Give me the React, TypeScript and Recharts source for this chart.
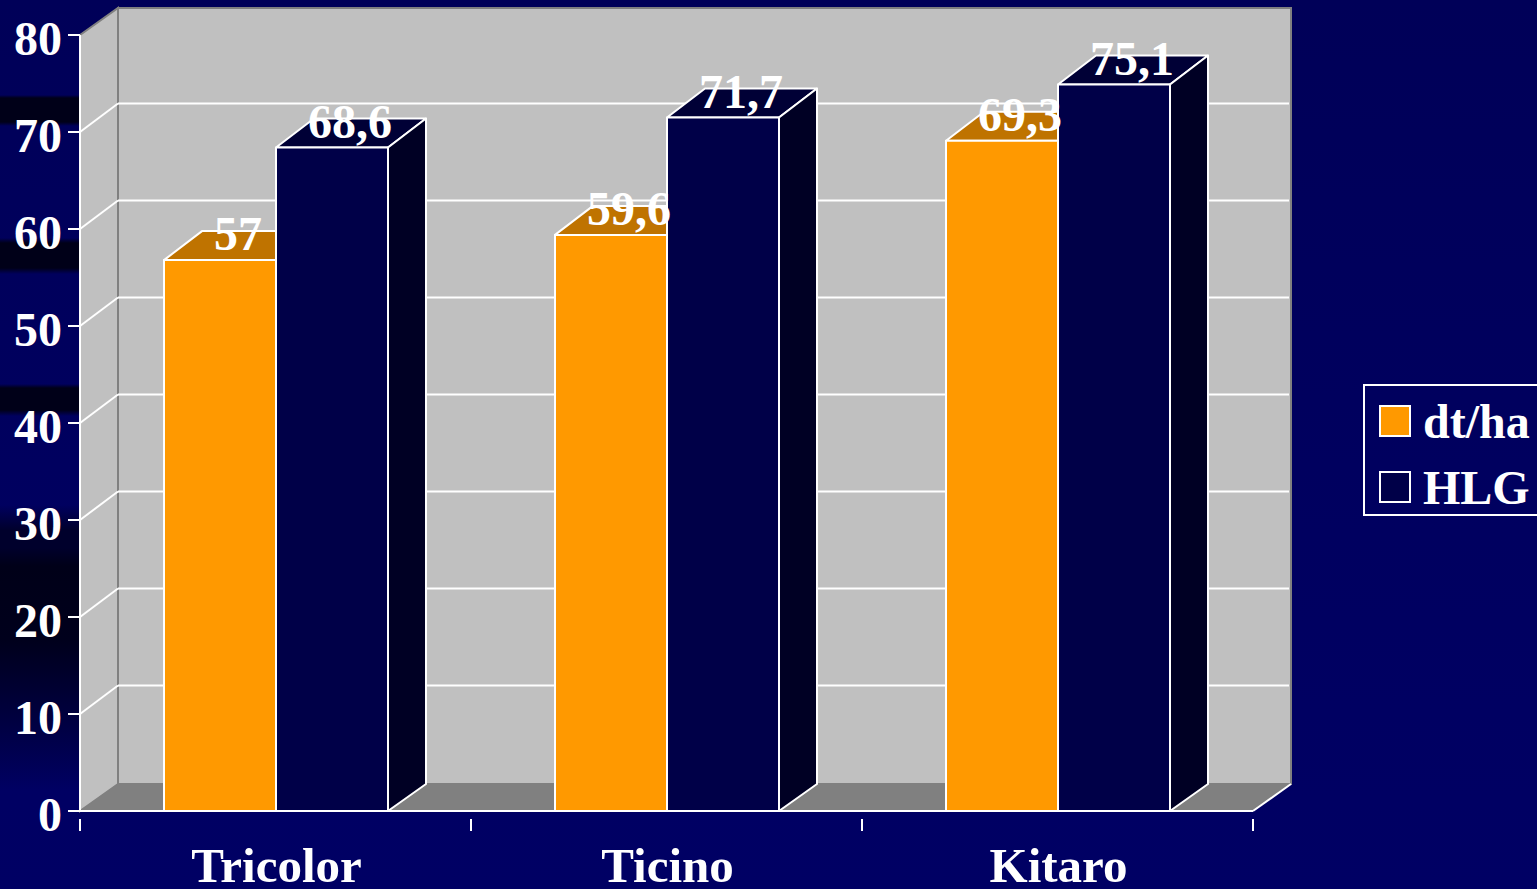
import React from "react";
import {
  BarChart,
  Bar,
  XAxis,
  YAxis,
  CartesianGrid,
  Legend,
  LabelList,
  ReferenceArea,
} from "recharts";

const categories = ["Tricolor", "Ticino", "Kitaro"];
const dtHa = [57, 59.6, 69.3];
const hlg = [68.6, 71.7, 75.1];
const yTicks = [0, 10, 20, 30, 40, 50, 60, 70, 80];

const data = categories.map((name, i) => ({ name, dtHa: dtHa[i], hlg: hlg[i] }));

const WIDTH = 1537;
const HEIGHT = 889;
const PLOT_LEFT = 80;
const PLOT_RIGHT = 1253;
const BAND = (PLOT_RIGHT - PLOT_LEFT) / categories.length;
// depth of the fake 3D box
const DX = 38;
const DY = 27;
// the original draws front faces a little low and grid lines a little high
const FRONT_NUDGE = 2;
const GRID_NUDGE = 1.5;
const FONT = "'Liberation Serif', 'Times New Roman', serif";

const textStyle = {
  fill: "#fff",
  fontFamily: FONT,
  fontSize: 48,
  fontWeight: "bold" as const,
};

const Walls = ({ x, y, width, height }: any) => {
  const bottom = y + height;
  const right = x + width;
  return (
    <g>
      <polygon
        points={`${x},${y} ${x + DX},${y - DY} ${x + DX},${bottom - DY} ${x},${bottom}`}
        fill="#c0c0c0"
        stroke="#808080"
        strokeWidth={2}
      />
      <rect
        x={x + DX}
        y={y - DY}
        width={width}
        height={height}
        fill="#c0c0c0"
        stroke="#808080"
        strokeWidth={2}
      />
      <polygon
        points={`${x},${bottom} ${right},${bottom} ${right + DX},${bottom - DY} ${x + DX},${bottom - DY}`}
        fill="#808080"
      />
      <line
        x1={right}
        y1={bottom}
        x2={right + DX}
        y2={bottom - DY}
        stroke="#fff"
        strokeWidth={2}
      />
    </g>
  );
};

const GridLine = ({ x1, y1, x2, index }: any) => {
  // no line on the floor or on the top edge
  if (index === 0 || index === yTicks.length - 1) return <g key={index} />;
  const backY = y1 - DY - GRID_NUDGE;
  return (
    <g key={index}>
      <line x1={x1} y1={y1} x2={x1 + DX} y2={backY} stroke="#fff" strokeWidth={2} />
      <line x1={x1 + DX} y1={backY} x2={x2 + DX - 2} y2={backY} stroke="#fff" strokeWidth={2} />
    </g>
  );
};

const Box3D = ({ x, y, width, height, fill, topFill, sideFill }: any) => {
  const right = x + width;
  const bottom = y + height;
  const front = y + FRONT_NUDGE;
  return (
    <g stroke="#fff" strokeWidth={2} strokeLinejoin="round">
      <polygon
        points={`${x},${front} ${x + DX},${y - DY} ${right + DX},${y - DY} ${right},${front}`}
        fill={topFill}
      />
      <polygon
        points={`${right},${front} ${right + DX},${y - DY} ${right + DX},${bottom - DY} ${right},${bottom}`}
        fill={sideFill}
      />
      <rect x={x} y={front} width={width} height={height - FRONT_NUDGE} fill={fill} />
    </g>
  );
};

const ValueLabel = ({ x, y, width, value }: any) => (
  <text x={x + width / 2 + 18} y={y - 8} textAnchor="middle" {...textStyle}>
    {String(value).replace(".", ",")}
  </text>
);

const YTick = ({ x, y, payload }: any) => (
  <text x={x} y={y + 20} textAnchor="end" {...textStyle}>
    {payload.value}
  </text>
);

const XTick = ({ x, y, payload, index }: any) => (
  <g>
    <line x1={x - BAND / 2} y1={y} x2={x - BAND / 2} y2={y + 12} stroke="#fff" strokeWidth={2} />
    {index === categories.length - 1 && (
      <line x1={x + BAND / 2} y1={y} x2={x + BAND / 2} y2={y + 12} stroke="#fff" strokeWidth={2} />
    )}
    <text x={x + 1} y={882} textAnchor="middle" {...textStyle} fontSize={49}>
      {payload.value}
    </text>
  </g>
);

const LegendBox = ({ payload }: any) => (
  <div
    style={{
      position: "relative",
      width: 190,
      height: 132,
      boxSizing: "border-box",
      border: "2px solid #fff",
    }}
  >
    {(payload || []).map((entry: any, i: number) => (
      <div key={entry.value}>
        <div
          style={{
            position: "absolute",
            left: 14,
            top: 19 + i * 66,
            width: 32,
            height: 32,
            boxSizing: "border-box",
            border: "2px solid #fff",
            background: entry.color,
          }}
        />
        <div
          style={{
            position: "absolute",
            left: 58,
            top: 9 + i * 66,
            lineHeight: "54px",
            color: "#fff",
            fontFamily: FONT,
            fontSize: 48,
            fontWeight: "bold",
            whiteSpace: "nowrap",
          }}
        >
          {entry.value}
        </div>
      </div>
    ))}
  </div>
);

// dark streaks of the slide background, left of the chart
const leftStrip =
  "linear-gradient(to bottom, transparent 0, transparent 95px, #000018 98px, #000018 122px, transparent 126px," +
  " transparent 238px, #000018 243px, #000018 268px, transparent 274px," +
  " transparent 384px, #000018 388px, #000018 410px, transparent 416px," +
  " transparent 505px, #00002c 530px, #00002c 548px, #000018 566px, #00001c 640px, #000040 720px, transparent 790px)";

export default function App() {
  return (
    <div
      style={{
        position: "fixed",
        left: 0,
        top: 0,
        width: WIDTH,
        height: HEIGHT,
        overflow: "hidden",
        background: "linear-gradient(to bottom, #000058 0%, #000060 60%, #000064 100%)",
      }}
    >
      <div
        style={{
          position: "absolute",
          left: 0,
          top: 0,
          width: PLOT_LEFT,
          height: HEIGHT,
          background: leftStrip,
        }}
      />
      <BarChart
        width={WIDTH}
        height={HEIGHT}
        data={data}
        margin={{ top: 35, right: WIDTH - PLOT_RIGHT, bottom: 0, left: 0 }}
        barCategoryGap={84}
        barGap={0}
      >
        <ReferenceArea y1={0} y2={80} shape={<Walls />} ifOverflow="visible" zIndex={-200} />
        <CartesianGrid
          vertical={false}
          horizontal={(props: any) => <GridLine {...props} />}
          zIndex={-100}
        />
        <XAxis
          dataKey="name"
          height={78}
          tickLine={false}
          axisLine={{ stroke: "#fff", strokeWidth: 2 }}
          tick={<XTick />}
          interval={0}
        />
        <YAxis
          width={PLOT_LEFT}
          domain={[0, 80]}
          ticks={yTicks}
          interval={0}
          tickSize={12}
          tickMargin={6}
          tickLine={{ stroke: "#fff", strokeWidth: 2 }}
          axisLine={{ stroke: "#fff", strokeWidth: 2 }}
          tick={<YTick />}
        />
        <Legend
          layout="vertical"
          align="center"
          verticalAlign="middle"
          width={190}
          itemSorter={null}
          wrapperStyle={{ left: 1363, top: 384, width: 190, height: 132 }}
          content={<LegendBox />}
        />
        <Bar
          dataKey="dtHa"
          name="dt/ha"
          fill="#ff9900"
          isAnimationActive={false}
          shape={<Box3D topFill="#bf7300" sideFill="#bf7300" />}
        >
          <LabelList dataKey="dtHa" content={<ValueLabel />} />
        </Bar>
        <Bar
          dataKey="hlg"
          name="HLG"
          fill="#000048"
          isAnimationActive={false}
          shape={<Box3D topFill="#000036" sideFill="#000024" />}
        >
          <LabelList dataKey="hlg" content={<ValueLabel />} />
        </Bar>
      </BarChart>
    </div>
  );
}
